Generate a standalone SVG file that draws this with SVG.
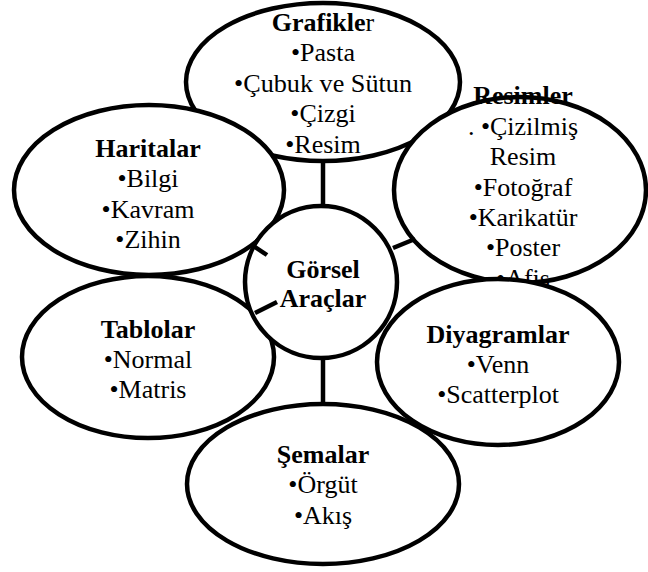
<svg xmlns="http://www.w3.org/2000/svg" width="648" height="572" viewBox="0 0 648 572" font-family="Liberation Serif, Times New Roman, Tinos, Noto Serif, DejaVu Serif, serif">
<style>
.shape{fill:#fff;stroke:#000;stroke-width:4.5}
.conn{stroke:#000;stroke-width:4.5;fill:none}
text{font-size:26px;fill:#000;text-anchor:middle}
.b{font-weight:bold}
</style>
<rect width="648" height="572" fill="#fff"/>
<g id="grafikler">
<ellipse class="shape" cx="323" cy="82" rx="137" ry="79"/>
<text x="323" y="31"><tspan class="b">Grafikle</tspan>r</text>
<text x="323" y="61">•Pasta</text>
<text x="323" y="92" textLength="178" lengthAdjust="spacingAndGlyphs">•Çubuk ve Sütun</text>
<text x="323" y="122">•Çizgi</text>
<text x="323" y="153">•Resim</text>
</g>
<g id="haritalar">
<ellipse class="shape" cx="149" cy="190" rx="135" ry="85"/>
<text class="b" x="148" y="157">Haritalar</text>
<text x="148" y="187">•Bilgi</text>
<text x="148" y="218">•Kavram</text>
<text x="148" y="248">•Zihin</text>
</g>
<g id="resimler">
<ellipse class="shape" cx="520" cy="190" rx="126" ry="93"/>
<text class="b" x="523" y="104">Resimler</text>
<text x="523" y="135">. •Çizilmiş</text>
<text x="523" y="165">Resim</text>
<text x="523" y="196">•Fotoğraf</text>
<text x="523" y="226">•Karikatür</text>
<text x="523" y="256">•Poster</text>
<text x="523" y="287">•Afiş</text>
</g>
<g id="tablolar">
<ellipse class="shape" cx="148" cy="357" rx="126" ry="81"/>
<text class="b" x="148" y="338">Tablolar</text>
<text x="148" y="368">•Normal</text>
<text x="148" y="398">•Matris</text>
</g>
<g id="gorsel">
<circle class="shape" cx="321" cy="282" r="76"/>
<text class="b" x="323" y="278">Görsel</text>
<text class="b" x="323" y="307">Araçlar</text>
</g>
<g id="diyagramlar">
<ellipse class="shape" cx="498" cy="362" rx="121" ry="83"/>
<text class="b" x="498" y="343">Diyagramlar</text>
<text x="498" y="373">•Venn</text>
<text x="498" y="403">•Scatterplot</text>
</g>
<g id="semalar">
<ellipse class="shape" cx="323" cy="484" rx="136" ry="80"/>
<text class="b" x="323" y="463">Şemalar</text>
<text x="323" y="493">•Örgüt</text>
<text x="323" y="524">•Akış</text>
</g>
<g id="connectors">
<line class="conn" x1="323" y1="161" x2="323" y2="206"/>
<line class="conn" x1="323" y1="358" x2="323" y2="404"/>
<line class="conn" x1="393" y1="248" x2="415" y2="239"/>
<line class="conn" x1="255" y1="247" x2="267" y2="255"/>
<line class="conn" x1="255" y1="313" x2="277" y2="302"/>
</g>
</svg>
